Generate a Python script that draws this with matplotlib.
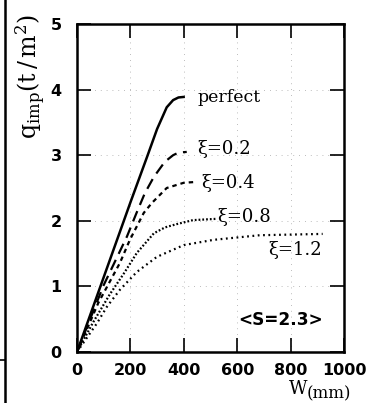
import matplotlib
matplotlib.use('Agg')
import matplotlib.pyplot as plt
from matplotlib.lines import Line2D

# curves: W (mm) vs q_imp (t/m^2)
w_perfect = [0, 100, 200, 262, 300, 336, 360, 380, 404]
q_perfect = [0, 1.14, 2.28, 2.97, 3.40, 3.73, 3.84, 3.88, 3.89]

w_02 = [0, 100, 187, 224, 254, 288, 329, 360, 380, 411]
q_02 = [0, 1.02, 1.76, 2.13, 2.42, 2.67, 2.90, 3.00, 3.04, 3.05]

w_04 = [0, 80, 161, 198, 250, 280, 336, 400, 437]
q_04 = [0, 0.75, 1.36, 1.71, 2.12, 2.27, 2.50, 2.58, 2.59]

w_08 = [0, 60, 123, 176, 224, 288, 330, 374, 434, 523]
q_08 = [0, 0.45, 0.88, 1.20, 1.51, 1.81, 1.90, 1.95, 2.01, 2.03]

w_12 = [0, 75, 112, 161, 224, 299, 400, 512, 684, 920]
q_12 = [0, 0.44, 0.69, 0.95, 1.22, 1.45, 1.63, 1.71, 1.78, 1.80]

xticks = [0, 200, 400, 600, 800, 1000]
yticks = [0, 1, 2, 3, 4, 5]

plt.rcParams['mathtext.fontset'] = 'dejavuserif'

fig = plt.figure(figsize=(3.75, 4.03), dpi=100)
ax = fig.add_axes([77/375, 1-352/403, 267/375, 328/403])

lw = 1.6
ax.plot(w_perfect, q_perfect, color='black', lw=1.8, solid_capstyle='butt')
ax.plot(w_02, q_02, color='black', lw=lw, linestyle=(0, (5, 3)))
ax.plot(w_04, q_04, color='black', lw=lw, linestyle=(0, (2, 1.8)))
ax.plot(w_08, q_08, color='black', lw=lw, linestyle=(0, (0.8, 0.9)))
ax.plot(w_12, q_12, color='black', lw=lw, linestyle=(0, (0.8, 1.6)))

serif = 'DejaVu Serif'
ax.text(450, 3.88, 'perfect', family=serif, fontsize=12.5, va='center')
ax.text(450, 3.10, 'ξ=0.2', family=serif, fontsize=13, va='center')
ax.text(467, 2.58, 'ξ=0.4', family=serif, fontsize=13, va='center')
ax.text(524, 2.06, 'ξ=0.8', family=serif, fontsize=13, va='center')
ax.text(716, 1.55, 'ξ=1.2', family=serif, fontsize=13, va='center')
ax.text(603, 0.49, '<S=2.3>', fontsize=12.2, fontweight='bold', va='center')

ax.set_xlim(0, 1000)
ax.set_ylim(0, 5)
ax.set_xticks(xticks)
ax.set_yticks(yticks)
ax.tick_params(direction='in', length=10, width=1.2, top=True, right=True,
               labelsize=11.5, pad=8)
for lab in ax.get_xticklabels() + ax.get_yticklabels():
    lab.set_fontweight('bold')
ax.tick_params(axis='y', pad=11)
for s in ax.spines.values():
    s.set_linewidth(1.8)

ax.grid(True, color='0.65', lw=0.6, linestyle=(0, (1, 6)))

ax.set_ylabel(r'$\mathrm{q_{imp}(t\,/\,m^2)}$', fontsize=17)
ax.yaxis.set_label_coords(-0.11, 0.84)

fig.text(289/375, 1-389/403, 'W', family=serif, fontsize=13, va='center')
fig.text(307/375, 1-394/403, '(mm)', family=serif, fontsize=12, va='center')

# frame edge of the neighbouring panel on the left
fig.add_artist(Line2D([5/375, 5/375], [0, 1], color='black', lw=1.8))
fig.add_artist(Line2D([0, 5/375], [1-360/403, 1-360/403], color='black', lw=1.2))

fig.savefig('out.png', dpi=100)
